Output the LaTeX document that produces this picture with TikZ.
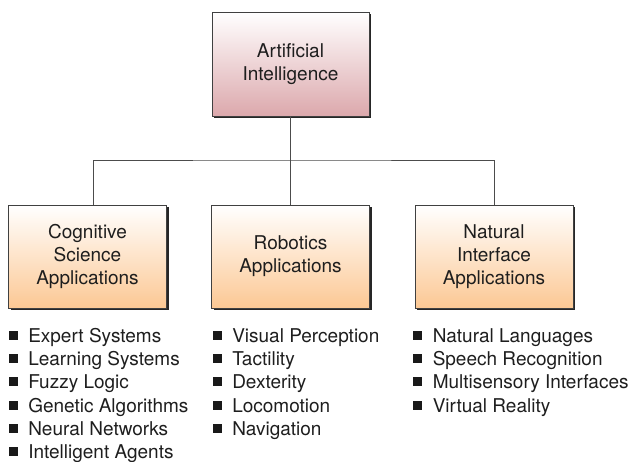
\documentclass[tikz,border=0pt]{standalone}
\usepackage{fontspec}
\setmainfont{TeX Gyre Heros}
\usetikzlibrary{shadows}
\definecolor{aipink}{RGB}{220,168,172}
\definecolor{apporange}{RGB}{252,200,148}
\definecolor{inkgray}{RGB}{30,30,30}

\begin{document}
\begin{tikzpicture}[x=1pt, y=-1pt,
        box/.style={draw=black!75, line width=0.9pt, align=center, inner sep=0pt,
            minimum width=158pt, minimum height=103pt, text=inkgray,
            font=\fontsize{19}{23}\selectfont,
            top color=white, bottom color=#1,
            drop shadow={shadow xshift=2pt, shadow yshift=-2pt, opacity=0.85, fill=black}},
        item/.style={anchor=base west, inner sep=0pt, text height=18pt, text depth=4pt,
            text=inkgray, font=\fontsize{19}{23}\selectfont,
            label={[bulletmark]left:}},
        bulletmark/.style={fill=black!90, minimum size=9pt, inner sep=0pt, xshift=-10pt},
        link/.style={draw=black!70, line width=0.9pt}]
        % Frame
        \useasboundingbox (0,0) rectangle (633,462);

        % Top box
        \node[box=aipink, minimum width=157pt, minimum height=104pt] (ai) at (290.5,64) {Artificial\\Intelligence};

        % Application boxes
        \node[box=apporange] (cog) at (87.5,256.5) {Cognitive\\Science\\Applications};
        \node[box=apporange] (rob) at (290.5,256.5) {Robotics\\Applications};
        \node[box=apporange] (nat) at (494,256.5) {Natural\\Interface\\Applications};

        % Branches
        \coordinate (split) at (290.5,160);
        \draw[link] (ai.south) -- (split);
        \draw[link] ([xshift=6pt]cog.north) |- (split) -| (nat.north);
        \draw[link] (split) -- (rob.north);

        % Lists
        \foreach \t [count=\i] in {Expert Systems, Learning Systems, Fuzzy Logic,
                Genetic Algorithms, Neural Networks, Intelligent Agents}
            \node[item] (cog-\i) at ([xshift=20pt, yshift={-34pt-23.2pt*(\i-1)}]cog.south west) {\t};

        \foreach \t [count=\i] in {Visual Perception, Tactility, Dexterity,
                Locomotion, Navigation}
            \node[item] (rob-\i) at ([xshift=21pt, yshift={-34pt-23.2pt*(\i-1)}]rob.south west) {\t};

        \foreach \t [count=\i] in {Natural Languages, Speech Recognition,
                Multisensory Interfaces, Virtual Reality}
            \node[item] (nat-\i) at ([xshift=18pt, yshift={-34pt-23.2pt*(\i-1)}]nat.south west) {\t};
    \end{tikzpicture}
\end{document}
